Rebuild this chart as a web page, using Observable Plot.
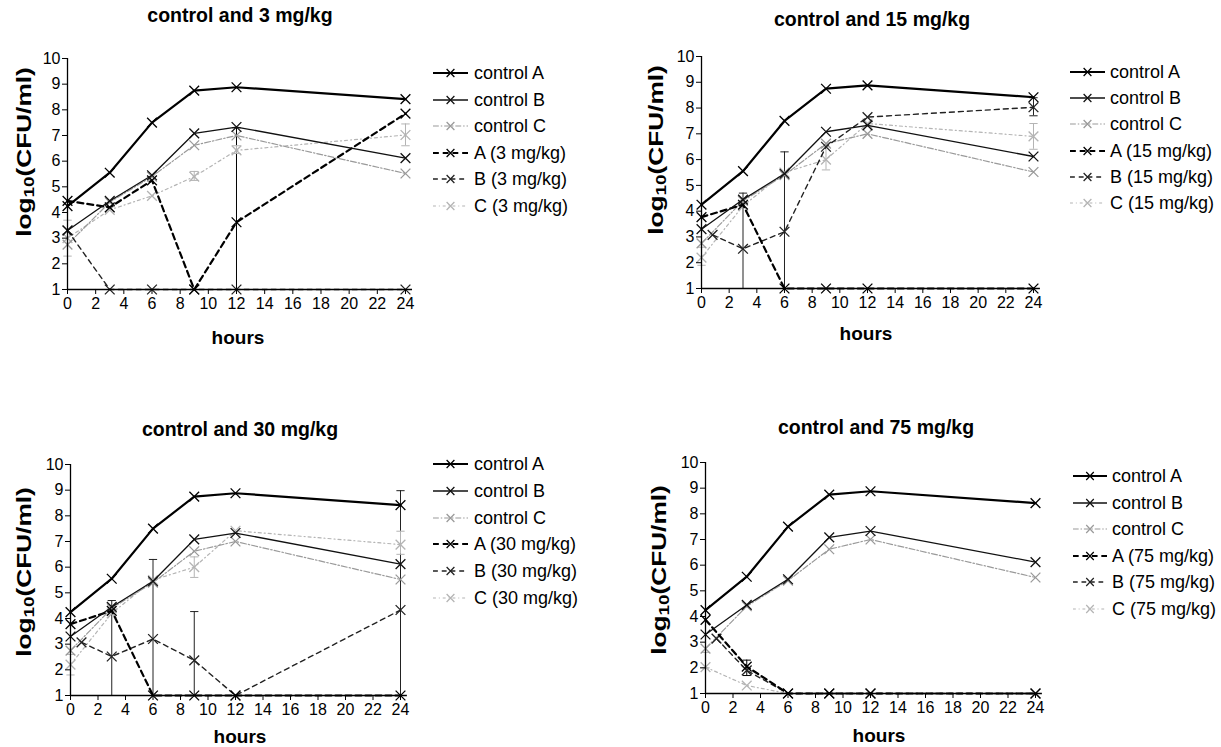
<!DOCTYPE html>
<html><head><meta charset="utf-8">
<script src="https://cdn.jsdelivr.net/npm/d3@7"></script>
<script src="https://cdn.jsdelivr.net/npm/@observablehq/plot@0.6"></script>
<style>
body{margin:0;background:#fff;}
#fig{position:relative;width:1221px;height:747px;background:#fff;font-family:"Liberation Sans",Arial,sans-serif;color:#000;overflow:hidden}
.abs{position:absolute;white-space:nowrap;line-height:1}
.title{font-weight:bold;font-size:19.5px;transform:translate(-50%,-50%)}
.xl{font-weight:bold;font-size:19px;transform:translate(-50%,-50%)}
.yl{font-weight:bold;font-size:21px;transform:translate(-50%,-50%) rotate(-90deg) scaleX(1.25)}
.yl sub{font-size:15px;vertical-align:-3px;line-height:0}
.leg{font-size:18px;transform:translateY(-50%)}
.panel{position:absolute}
</style></head><body><div id="fig"></div><script>
// ---- data ----
const hours = [0, 3, 6, 9, 12, 24];
const hoursB = [0.8, 3, 6, 9, 12, 24];
const xTicks = [0, 2, 4, 6, 8, 10, 12, 14, 16, 18, 20, 22, 24];
const yTicks = [1, 2, 3, 4, 5, 6, 7, 8, 9, 10];
const doses = ["3", "15", "30", "75"];

const controlA = [4.25, 5.55, 7.5, 8.75, 8.88, 8.42];
const controlB = [3.3, 4.45, 5.45, 7.08, 7.33, 6.12];
const controlC = [2.75, 4.4, 5.4, 6.62, 7.0, 5.52];

const a3 = [4.45, 4.2, 5.25, 1.0, 3.62, 7.85];
const b3 = [3.3, 1.0, 1.0, 1.0, 1.0, 1.0];
const c3 = [3.0, 4.1, 4.65, 5.4, 6.42, 7.02];

const a15 = [3.77, 4.25, 1.0, 1.0, 1.0, 1.0];
const b15 = [3.08, 2.54, 3.2, 6.5, 7.65, 8.03];
const c15 = [2.2, 4.2, 5.5, 6.0, 7.4, 6.9];

const a30 = [3.78, 4.3, 1.0, 1.0, 1.0, 1.0];
const b30 = [3.07, 2.52, 3.2, 2.37, 1.0, 4.33];
const c30 = [2.2, 4.2, 5.5, 6.0, 7.42, 6.88];

const a75 = [3.87, 2.05, 1.0, 1.0, 1.0, 1.0];
const b75 = [3.14, 1.9, 1.0, 1.0, 1.0, 1.0];
const c75 = [2.03, 1.31, 1.0, 1.0, 1.0, 1.0];

// error bars per panel: series, hour, low, high
const e3Series = ["C", "A", "C", "C", "C"];
const e3Hour = [0, 12, 9, 12, 24];
const e3Lo = [2.3, 1.0, 5.25, 6.3, 6.6];
const e3Hi = [3.7, 7.3, 5.6, 6.6, 7.45];

const e15Series = ["B", "B", "C", "C", "B", "C"];
const e15Hour = [3, 6, 9, 24, 24, 0];
const e15Lo = [1.0, 1.0, 5.6, 6.4, 7.7, 1.9];
const e15Hi = [4.7, 6.3, 6.5, 7.4, 8.4, 2.6];

const e30Series = ["B", "B", "B", "C", "B", "C", "C"];
const e30Hour = [3, 6, 9, 9, 24, 24, 0];
const e30Lo = [1.0, 1.0, 1.0, 5.6, 1.0, 6.5, 1.8];
const e30Hi = [4.7, 6.3, 4.27, 6.4, 8.98, 7.4, 2.6];

const e75Series = ["A", "C"];
const e75Hour = [3, 0];
const e75Lo = [1.7, 2.0];
const e75Hi = [2.3, 2.6];

// ---- styles ----
const styles = {
  cA: {stroke: "#000", strokeWidth: 2.2, dash: null},
  cB: {stroke: "#111", strokeWidth: 1.3, dash: null},
  cC: {stroke: "#9a9a9a", strokeWidth: 1.2, dash: "6,2,1.5,2"},
  A:  {stroke: "#000", strokeWidth: 2.2, dash: "6,4"},
  B:  {stroke: "#222", strokeWidth: 1.4, dash: "5,4"},
  C:  {stroke: "#b4b4b4", strokeWidth: 1.2, dash: "3,3,1,3"}
};
const drawOrder = ["C", "cC", "B", "A", "cB", "cA"];

const panels = [
  {dose: doses[0], A: a3, B: b3, C: c3, tB: hours, eS: e3Series, eH: e3Hour, eL: e3Lo, eU: e3Hi,
   x0: 67, x24: 405, y10: 58, y1: 289, title: [240, 16], xl: [238, 337], yl: [23, 152], leg: [433, 468, 474, 73, 26.5]},
  {dose: doses[1], A: a15, B: b15, C: c15, tB: hoursB, eS: e15Series, eH: e15Hour, eL: e15Lo, eU: e15Hi,
   x0: 701, x24: 1033, y10: 56, y1: 288, title: [872, 20], xl: [866, 333], yl: [655, 150], leg: [1070, 1105, 1110, 72, 26.2]},
  {dose: doses[2], A: a30, B: b30, C: c30, tB: hoursB, eS: e30Series, eH: e30Hour, eL: e30Lo, eU: e30Hi,
   x0: 70, x24: 400, y10: 464, y1: 695, title: [240, 430], xl: [240, 736], yl: [23, 572], leg: [433, 468, 474, 464, 26.8]},
  {dose: doses[3], A: a75, B: b75, C: c75, tB: hoursB, eS: e75Series, eH: e75Hour, eL: e75Lo, eU: e75Hi,
   x0: 705, x24: 1035, y10: 462, y1: 693, title: [876, 428], xl: [879, 735], yl: [658, 570], leg: [1073, 1107, 1112, 476, 26.6]}
];

const fig = document.getElementById("fig");

function addDiv(cls, x, y, html) {
  const d = document.createElement("div");
  d.className = "abs " + cls;
  d.style.left = x + "px";
  d.style.top = y + "px";
  d.innerHTML = html;
  fig.appendChild(d);
  return d;
}

function legendSample(key) {
  const s = styles[key];
  const dash = s.dash ? `stroke-dasharray="${s.dash}"` : "";
  return `<line x1="0" y1="7" x2="36" y2="7" stroke="${s.stroke}" stroke-width="${s.strokeWidth}" ${dash}/>` +
    `<path d="M14,3L22,11M22,3L14,11" stroke="${s.stroke}" stroke-width="1.3" fill="none"/>`;
}

panels.forEach(p => {
  const vals = {cA: controlA, cB: controlB, cC: controlC, A: p.A, B: p.B, C: p.C};
  const times = {cA: hours, cB: hours, cC: hours, A: hours, B: p.tB, C: hours};
  const data = [];
  for (const k of drawOrder) vals[k].forEach((v, i) => data.push({s: k, h: times[k][i], v}));
  const errs = p.eS.map((s, i) => ({s, h: p.eH[i], lo: p.eL[i], hi: p.eU[i]}));

  const xEnd = p.x0 + (p.x24 - p.x0) * 24.5 / 24;
  const mL = 50, mT = 20, mR = 15, mB = 30;
  const width = (xEnd - p.x0) + mL + mR;
  const height = (p.y1 - p.y10) + mT + mB;

  const marks = [];
  marks.push(Plot.ruleX(errs, {x: "h", y1: "lo", y2: "hi", stroke: d => styles[d.s].stroke, strokeWidth: 1}));
  marks.push(Plot.link(errs, {x1: d => d.h - 0.3, x2: d => d.h + 0.3, y1: "hi", y2: "hi", stroke: d => styles[d.s].stroke, strokeWidth: 1}));
  marks.push(Plot.link(errs.filter(d => d.lo > 1), {x1: d => d.h - 0.3, x2: d => d.h + 0.3, y1: "lo", y2: "lo", stroke: d => styles[d.s].stroke, strokeWidth: 1}));
  for (const k of drawOrder) {
    const st = styles[k];
    const sub = data.filter(d => d.s === k);
    marks.push(Plot.line(sub, {x: "h", y: "v", stroke: st.stroke, strokeWidth: st.strokeWidth, strokeDasharray: st.dash || undefined}));
    marks.push(Plot.dot(sub, {x: "h", y: "v", symbol: "times", r: 4.5, stroke: st.stroke, strokeWidth: 1.3}));
  }
  marks.push(Plot.ruleX([0], {stroke: "#000", strokeWidth: 1.3}));
  marks.push(Plot.ruleY([1], {stroke: "#000", strokeWidth: 1.3}));
  marks.push(Plot.axisX({ticks: xTicks, tickSize: 5, tickPadding: 3, fontSize: 16, label: null, stroke: "#000"}));
  marks.push(Plot.axisY({ticks: yTicks, tickSize: 5, tickPadding: 2, fontSize: 16, label: null, stroke: "#000"}));

  const svg = Plot.plot({
    width, height, marginLeft: mL, marginTop: mT, marginRight: mR, marginBottom: mB,
    x: {domain: [0, 24.5]},
    y: {domain: [1, 10]},
    style: {fontFamily: '"Liberation Sans", Arial, sans-serif', fontSize: "16px", color: "#000", background: "transparent", overflow: "visible"},
    marks
  });
  svg.classList.add("panel");
  svg.style.left = (p.x0 - mL) + "px";
  svg.style.top = (p.y10 - mT) + "px";
  fig.appendChild(svg);

  addDiv("title", p.title[0], p.title[1], `control and ${p.dose} mg/kg`);
  addDiv("xl", p.xl[0], p.xl[1], "hours");
  addDiv("yl", p.yl[0], p.yl[1], "log<sub>10</sub>(CFU/ml)");

  const labels = ["control A", "control B", "control C", `A (${p.dose} mg/kg)`, `B (${p.dose} mg/kg)`, `C (${p.dose} mg/kg)`];
  const keys = ["cA", "cB", "cC", "A", "B", "C"];
  const [lx1, lx2, tx, y0, dy] = p.leg;
  keys.forEach((k, i) => {
    const y = y0 + dy * i;
    addDiv("", lx1, y - 7, `<svg width="${lx2 - lx1}" height="14" viewBox="0 0 36 14" preserveAspectRatio="none" style="display:block;overflow:visible">${legendSample(k)}</svg>`);
    addDiv("leg", tx, y, labels[i]);
  });
});
</script></body></html>
